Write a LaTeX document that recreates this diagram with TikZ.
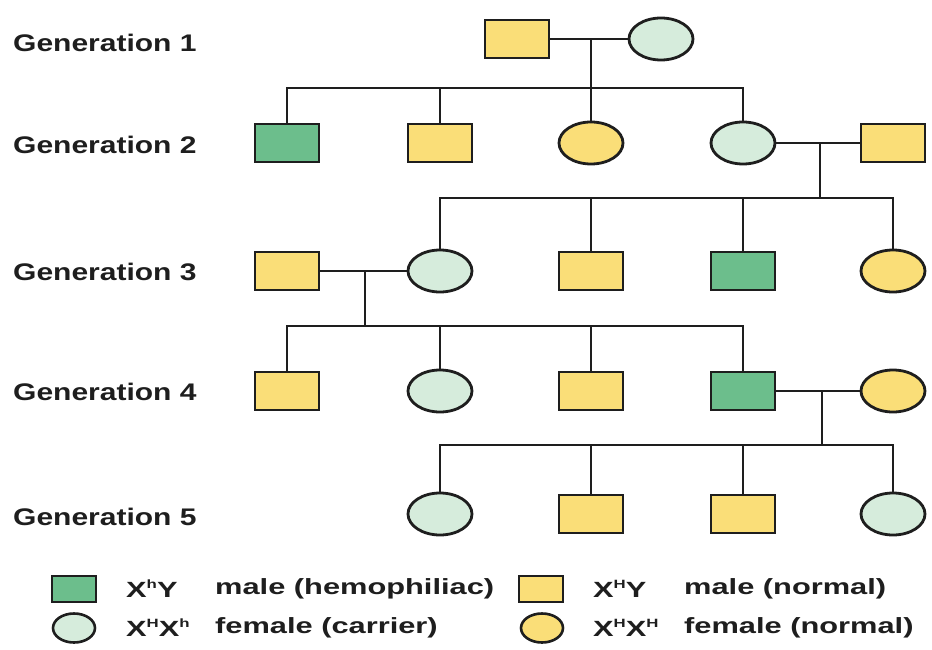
\documentclass[tikz,border=0pt]{standalone}
\usepackage{fontspec}
\usetikzlibrary{shapes.geometric}
\newfontfamily\genfont[FakeStretch=1.25]{Liberation Sans Bold}
\newfontfamily\legfont[FakeStretch=1.4]{Liberation Sans Bold}
\definecolor{hemo}{HTML}{6CBE8C}
\definecolor{carrier}{HTML}{D6ECDC}
\definecolor{normal}{HTML}{FADE78}
\definecolor{ink}{HTML}{1E1E1E}
\newcommand{\supr}[1]{\raisebox{0.75ex}{\fontsize{12}{12}\selectfont #1}}
\tikzset{
  male/.style={draw=ink, line width=2.8pt, rectangle, minimum width=64pt, minimum height=38pt, inner sep=0pt},
  female/.style={draw=ink, line width=2.8pt, ellipse, minimum width=64pt, minimum height=42pt, inner sep=0pt},
  lmale/.style={draw=ink, line width=2.6pt, rectangle, minimum width=44pt, minimum height=26pt, inner sep=0pt},
  lfemale/.style={draw=ink, line width=2.6pt, ellipse, minimum width=42pt, minimum height=29pt, inner sep=0pt},
  hemo/.style={fill=hemo},
  carr/.style={fill=carrier},
  norm/.style={fill=normal},
  link/.style={draw=ink, line width=2.6pt},
  genlabel/.style={anchor=west, inner sep=0pt, text=ink, font=\genfont\fontsize{24}{24}\selectfont},
  legtext/.style={anchor=west, inner sep=0pt, text=ink, font=\legfont\fontsize{22}{22}\selectfont}
}
\begin{document}
\begin{tikzpicture}[x=1pt, y=-1pt]
\fill[white] (0,0) rectangle (932,650);
\useasboundingbox (0,0) rectangle (932,650);

% generation labels
\node[genlabel] (l1) at (13,43) {Generation 1};
\node[genlabel] (l2) at (13,145) {Generation 2};
\node[genlabel] (l3) at (13,272) {Generation 3};
\node[genlabel] (l4) at (13,392) {Generation 4};
\node[genlabel] (l5) at (13,517) {Generation 5};

% generation 1
\node[male, norm] (g1m) at (517,39) {};
\node[female, carr] (g1f) at (661,39) {};
% generation 2
\node[male, hemo] (g2a) at (287,143) {};
\node[male, norm] (g2b) at (440,143) {};
\node[female, norm] (g2c) at (591,143) {};
\node[female, carr] (g2d) at (743,143) {};
\node[male, norm] (g2s) at (893,143) {};
% generation 3
\node[male, norm] (g3s) at (287,271) {};
\node[female, carr] (g3a) at (440,271) {};
\node[male, norm] (g3b) at (591,271) {};
\node[male, hemo] (g3c) at (743,271) {};
\node[female, norm] (g3d) at (893,271) {};
% generation 4
\node[male, norm] (g4a) at (287,391) {};
\node[female, carr] (g4b) at (440,391) {};
\node[male, norm] (g4c) at (591,391) {};
\node[male, hemo] (g4d) at (743,391) {};
\node[female, norm] (g4s) at (893,391) {};
% generation 5
\node[female, carr] (g5a) at (440,514) {};
\node[male, norm] (g5b) at (591,514) {};
\node[male, norm] (g5c) at (743,514) {};
\node[female, carr] (g5d) at (893,514) {};

% junction and bar coordinates
\coordinate (j1) at (591,39);
\coordinate (b1) at (591,88);
\coordinate (j2) at (820,143);
\coordinate (b2) at (820,198);
\coordinate (j3) at (365,271);
\coordinate (b3) at (365,326);
\coordinate (j4) at (822,391);
\coordinate (b4) at (822,445);

% gen 1 family
\draw[link] (g1m) -- (g1f);
\draw[link] (j1) -- (g2c.north);
\draw[link] (g2a.north) |- (b1) -| (g2d.north);
\draw[link] (g2b.north) -- (g2b.north |- b1);
% gen 2 family
\draw[link] (g2d) -- (g2s);
\draw[link] (j2) -- (b2);
\draw[link] (g3a.north) |- (b2) -| (g3d.north);
\draw[link] (g3b.north) -- (g3b.north |- b2);
\draw[link] (g3c.north) -- (g3c.north |- b2);
% gen 3 family
\draw[link] (g3s) -- (g3a);
\draw[link] (j3) -- (b3);
\draw[link] (g4a.north) |- (b3) -| (g4d.north);
\draw[link] (g4b.north) -- (g4b.north |- b3);
\draw[link] (g4c.north) -- (g4c.north |- b3);
% gen 4 family
\draw[link] (g4d) -- (g4s);
\draw[link] (j4) -- (b4);
\draw[link] (g5a.north) |- (b4) -| (g5d.north);
\draw[link] (g5b.north) -- (g5b.north |- b4);
\draw[link] (g5c.north) -- (g5c.north |- b4);

% legend
\node[lmale, hemo] (k1) at (74,589) {};
\node[lfemale, carr] (k2) at (74,628) {};
\node[lmale, norm] (k3) at (541,589) {};
\node[lfemale, norm] (k4) at (542,628) {};
\node[legtext] (t1a) at (126,589) {X\supr{h}Y};
\node[legtext] (t1b) at (215,589) {male (hemophiliac)};
\node[legtext] (t2a) at (126,628) {X\supr{H}X\supr{h}};
\node[legtext] (t2b) at (215,628) {female (carrier)};
\node[legtext] (t3a) at (593,589) {X\supr{H}Y};
\node[legtext] (t3b) at (684,589) {male (normal)};
\node[legtext] (t4a) at (593,628) {X\supr{H}X\supr{H}};
\node[legtext] (t4b) at (684,628) {female (normal)};
\end{tikzpicture}
\end{document}
